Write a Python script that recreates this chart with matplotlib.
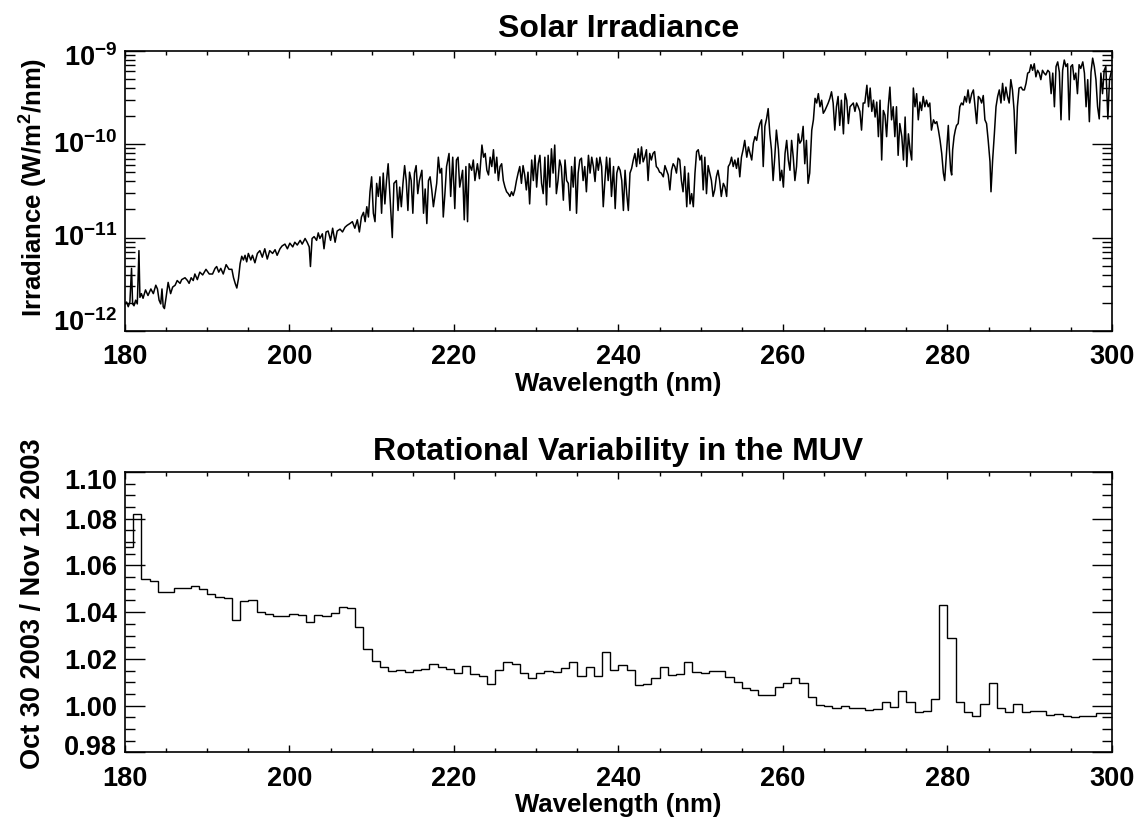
import numpy as np
import matplotlib
matplotlib.use("Agg")
import matplotlib.pyplot as plt
from matplotlib.ticker import MultipleLocator, FixedLocator, FixedFormatter, LogLocator, NullFormatter
from matplotlib.transforms import ScaledTranslation

# ---------------------------------------------------------------------------
# Solar spectrum, (wavelength nm, log10 irradiance W/m^2/nm)
# ---------------------------------------------------------------------------
spec_180_210 = [
    (180.0, -11.71), (180.2, -11.69), (180.4, -11.74), (180.6, -11.69), (180.8, -11.33),
    (180.93, -11.71), (181.1, -11.73), (181.3, -11.67), (181.5, -11.71), (181.7, -11.14),
    (181.82, -11.64), (182.0, -11.60), (182.2, -11.65), (182.5, -11.56), (182.8, -11.62),
    (183.15, -11.55), (183.45, -11.60), (183.75, -11.51), (183.95, -11.55), (184.15, -11.67),
    (184.35, -11.71), (184.5, -11.55), (184.65, -11.74), (184.8, -11.76), (185.0, -11.64),
    (185.25, -11.48), (185.55, -11.60), (185.8, -11.53), (186.1, -11.51), (186.35, -11.46),
    (186.7, -11.49), (186.9, -11.45), (187.3, -11.43), (187.6, -11.46), (187.8, -11.49),
    (188.05, -11.43), (188.3, -11.46), (188.5, -11.39), (188.8, -11.45), (189.1, -11.37),
    (189.45, -11.40), (189.85, -11.34), (190.25, -11.39), (190.65, -11.39), (190.95, -11.33),
    (191.15, -11.31), (191.4, -11.37), (191.65, -11.33), (191.95, -11.39), (192.3, -11.29),
    (192.65, -11.34), (193.0, -11.34), (193.2, -11.43), (193.4, -11.49), (193.6, -11.54),
    (193.8, -11.44), (194.0, -11.28), (194.2, -11.20), (194.4, -11.24), (194.6, -11.19),
    (194.8, -11.26), (195.0, -11.17), (195.3, -11.24), (195.5, -11.19), (195.8, -11.27),
    (196.1, -11.17), (196.4, -11.14), (196.7, -11.21), (197.0, -11.12), (197.3, -11.23),
    (197.6, -11.14), (197.95, -11.17), (198.25, -11.13), (198.5, -11.19), (198.85, -11.12),
    (199.1, -11.09), (199.45, -11.07), (199.75, -11.12), (200.05, -11.06), (200.4, -11.10),
    (200.65, -11.05), (200.95, -11.08), (201.3, -11.03), (201.55, -11.07), (201.9, -11.01),
    (202.15, -11.05), (202.4, -11.10), (202.55, -11.31), (202.75, -11.01), (203.0, -10.99),
    (203.3, -11.03), (203.5, -10.95), (203.7, -11.01), (204.0, -10.96), (204.2, -11.12),
    (204.45, -10.94), (204.7, -10.93), (205.0, -11.03), (205.25, -10.90), (205.55, -11.05),
    (205.8, -10.93), (206.15, -10.91), (206.45, -10.94), (206.75, -10.89), (207.0, -10.87),
    (207.35, -10.85), (207.65, -10.83), (207.95, -10.90), (208.25, -10.81), (208.5, -10.94),
    (208.75, -10.78), (209.0, -10.73), (209.2, -10.83), (209.4, -10.67), (209.6, -10.78),
]

spec_210_240 = [
    (209.79, -10.51), (209.99, -10.35), (210.2, -10.74), (210.4, -10.83), (210.6, -10.42),
    (210.8, -10.56), (211.0, -10.35), (211.2, -10.74), (211.4, -10.31), (211.6, -10.64),
    (211.8, -10.39), (212.0, -10.21), (212.2, -10.53), (212.5, -11.00), (212.7, -10.42),
    (213.0, -10.39), (213.2, -10.71), (213.4, -10.46), (213.6, -10.67), (213.8, -10.42),
    (214.0, -10.23), (214.2, -10.39), (214.4, -10.71), (214.6, -10.30), (214.8, -10.39),
    (215.0, -10.74), (215.2, -10.31), (215.4, -10.23), (215.6, -10.53), (215.8, -10.39),
    (216.1, -10.28), (216.3, -10.74), (216.5, -10.48), (216.7, -10.85), (216.9, -10.39),
    (217.1, -10.35), (217.3, -10.49), (217.5, -10.67), (217.9, -10.42), (218.1, -10.14),
    (218.3, -10.31), (218.5, -10.26), (218.7, -10.78), (218.9, -10.53), (219.1, -10.24),
    (219.4, -10.10), (219.6, -10.56), (219.85, -10.14), (220.1, -10.69), (220.3, -10.17),
    (220.5, -10.14), (220.7, -10.46), (221.05, -10.28), (221.25, -10.81), (221.45, -10.24),
    (221.65, -10.83), (221.85, -10.21), (222.15, -10.28), (222.35, -10.17), (222.55, -10.39),
    (222.85, -10.21), (223.1, -10.37), (223.4, -10.01), (223.6, -10.14), (223.8, -10.10),
    (224.0, -10.28), (224.2, -10.33), (224.4, -10.14), (224.6, -10.24), (224.8, -10.06),
    (225.0, -10.31), (225.2, -10.14), (225.4, -10.39), (225.6, -10.24), (225.8, -10.21),
    (226.0, -10.39), (226.2, -10.46), (226.4, -10.51), (226.6, -10.53), (226.8, -10.56),
    (227.0, -10.51), (227.2, -10.55), (227.4, -10.49), (227.6, -10.39), (227.8, -10.31),
    (228.0, -10.24), (228.2, -10.42), (228.4, -10.23), (228.6, -10.33), (228.8, -10.49),
    (229.0, -10.30), (229.2, -10.64), (229.45, -10.17), (229.65, -10.39), (229.85, -10.12),
    (230.05, -10.46), (230.25, -10.21), (230.45, -10.12), (230.65, -10.42), (230.85, -10.53),
    (231.05, -10.14), (231.25, -10.65), (231.45, -10.12), (231.65, -10.46), (231.85, -10.05),
    (232.05, -10.31), (232.25, -10.01), (232.45, -10.53), (232.65, -10.39), (232.85, -10.17),
    (233.05, -10.24), (233.3, -10.60), (233.5, -10.17), (233.7, -10.39), (233.9, -10.42),
    (234.1, -10.71), (234.3, -10.24), (234.5, -10.46), (234.7, -10.14), (234.9, -10.74),
    (235.1, -10.31), (235.3, -10.17), (235.5, -10.15), (235.7, -10.39), (235.9, -10.24),
    (236.1, -10.51), (236.35, -10.12), (236.55, -10.31), (236.75, -10.14), (236.95, -10.24),
    (237.15, -10.40), (237.35, -10.15), (237.55, -10.28), (237.75, -10.14), (237.95, -10.24),
    (238.15, -10.67), (238.35, -10.39), (238.55, -10.14), (238.75, -10.39), (238.95, -10.15),
    (239.15, -10.56), (239.4, -10.24), (239.6, -10.69), (239.8, -10.31), (240.0, -10.24),
]

spec_240_270 = [
    (240.2, -10.28), (240.4, -10.39), (240.6, -10.71), (240.8, -10.28), (241.0, -10.53),
    (241.2, -10.71), (241.4, -10.31), (241.6, -10.26), (241.8, -10.17), (242.0, -10.10),
    (242.2, -10.24), (242.4, -10.05), (242.6, -10.21), (242.8, -10.03), (243.0, -10.19),
    (243.2, -10.14), (243.4, -10.06), (243.6, -10.39), (243.8, -10.10), (244.0, -10.17),
    (244.2, -10.10), (244.4, -10.08), (244.6, -10.24), (244.8, -10.26), (245.0, -10.30),
    (245.2, -10.31), (245.45, -10.35), (245.65, -10.23), (245.85, -10.28), (246.05, -10.33),
    (246.25, -10.49), (246.45, -10.28), (246.65, -10.21), (246.85, -10.24), (247.05, -10.31),
    (247.25, -10.15), (247.45, -10.17), (247.65, -10.39), (247.85, -10.51), (248.05, -10.24),
    (248.3, -10.67), (248.5, -10.31), (248.7, -10.64), (248.9, -10.53), (249.1, -10.67),
    (249.3, -10.31), (249.5, -10.08), (249.7, -10.06), (249.9, -10.17), (250.1, -10.12),
    (250.3, -10.49), (250.5, -10.14), (250.7, -10.53), (250.9, -10.23), (251.1, -10.31),
    (251.3, -10.39), (251.5, -10.56), (251.7, -10.49), (251.9, -10.35), (252.1, -10.28),
    (252.3, -10.39), (252.5, -10.56), (252.75, -10.42), (252.95, -10.46), (253.15, -10.56),
    (253.35, -10.24), (253.55, -10.21), (253.75, -10.14), (253.95, -10.24), (254.15, -10.17),
    (254.35, -10.26), (254.55, -10.15), (254.75, -10.35), (254.95, -10.14), (255.15, -10.06),
    (255.35, -9.96), (255.6, -10.14), (255.8, -10.03), (256.0, -10.10), (256.2, -10.17),
    (256.4, -9.99), (256.6, -9.92), (256.8, -9.96), (257.0, -9.85), (257.2, -9.78),
    (257.4, -9.74), (257.6, -10.24), (257.8, -9.81), (258.0, -9.73), (258.2, -9.62),
    (258.4, -9.89), (258.6, -10.06), (258.8, -10.39), (259.0, -10.14), (259.2, -9.85),
    (259.45, -10.06), (259.65, -10.39), (259.85, -10.28), (260.05, -10.46), (260.25, -10.10),
    (260.45, -9.96), (260.65, -10.17), (260.85, -10.28), (261.05, -9.96), (261.25, -10.14),
    (261.45, -10.39), (261.65, -10.24), (261.85, -9.89), (262.05, -9.99), (262.25, -9.96),
    (262.45, -9.81), (262.65, -10.21), (262.85, -9.96), (263.05, -10.42), (263.25, -10.31),
    (263.5, -9.85), (263.7, -9.74), (263.9, -9.51), (264.1, -9.56), (264.3, -9.46),
    (264.5, -9.60), (264.7, -9.53), (264.9, -9.67), (265.1, -9.64), (265.3, -9.60),
    (265.5, -9.56), (265.7, -9.51), (265.9, -9.44), (266.1, -9.56), (266.3, -9.85),
    (266.5, -9.60), (266.7, -9.49), (266.9, -9.80), (267.1, -9.53), (267.35, -9.89),
    (267.55, -9.46), (267.75, -9.53), (267.95, -9.78), (268.15, -9.60), (268.35, -9.58),
    (268.55, -9.56), (268.75, -9.65), (268.95, -9.56), (269.15, -9.60), (269.35, -9.65),
    (269.55, -9.85), (269.75, -9.56), (269.95, -9.56), (270.2, -9.37), (270.4, -9.60),
]

spec_270_300 = [
    (270.6, -9.40), (270.8, -9.65), (271.0, -9.53), (271.2, -9.71), (271.4, -9.55),
    (271.6, -9.92), (271.8, -9.53), (272.0, -10.17), (272.2, -9.64), (272.4, -9.69),
    (272.6, -9.92), (272.8, -9.60), (273.0, -9.39), (273.2, -9.74), (273.4, -9.60),
    (273.6, -9.92), (273.8, -9.60), (274.0, -10.12), (274.2, -9.78), (274.45, -9.92),
    (274.65, -10.17), (274.85, -9.71), (275.05, -10.24), (275.25, -9.89), (275.45, -10.06),
    (275.65, -10.17), (275.85, -9.40), (276.05, -9.60), (276.25, -9.46), (276.45, -9.74),
    (276.65, -9.55), (276.85, -9.64), (277.05, -9.49), (277.25, -9.60), (277.45, -9.53),
    (277.65, -9.60), (277.85, -9.56), (278.05, -9.85), (278.3, -9.74), (278.5, -9.78),
    (278.7, -9.76), (278.9, -9.85), (279.1, -9.96), (279.3, -10.10), (279.5, -10.31),
    (279.66, -10.39), (279.82, -10.17), (279.98, -9.96), (280.1, -9.80), (280.23, -10.06),
    (280.39, -10.28), (280.51, -10.33), (280.63, -10.06), (280.8, -9.92), (280.95, -9.85),
    (281.1, -9.80), (281.3, -9.78), (281.5, -9.60), (281.7, -9.56), (281.9, -9.58),
    (282.1, -9.49), (282.3, -9.55), (282.5, -9.42), (282.7, -9.56), (282.95, -9.46),
    (283.15, -9.42), (283.35, -9.60), (283.55, -9.78), (283.75, -9.49), (283.95, -9.51),
    (284.15, -9.56), (284.35, -9.48), (284.55, -9.74), (284.75, -9.78), (284.95, -9.96),
    (285.17, -10.19), (285.29, -10.51), (285.49, -10.17), (285.7, -9.89), (285.9, -9.60),
    (286.1, -9.49), (286.3, -9.42), (286.5, -9.56), (286.7, -9.35), (286.9, -9.53),
    (287.1, -9.39), (287.3, -9.49), (287.5, -9.56), (287.7, -9.31), (287.9, -9.42),
    (288.1, -9.64), (288.3, -10.10), (288.5, -9.60), (288.7, -9.40), (288.95, -9.39),
    (289.15, -9.42), (289.35, -9.42), (289.55, -9.35), (289.75, -9.24), (289.95, -9.23),
    (290.15, -9.15), (290.35, -9.21), (290.55, -9.14), (290.75, -9.28), (290.95, -9.21),
    (291.15, -9.24), (291.35, -9.31), (291.55, -9.21), (291.75, -9.24), (291.95, -9.26),
    (292.2, -9.21), (292.4, -9.23), (292.6, -9.46), (292.8, -9.24), (293.0, -9.60),
    (293.2, -9.17), (293.4, -9.12), (293.6, -9.23), (293.8, -9.74), (294.0, -9.21),
    (294.2, -9.10), (294.4, -9.17), (294.6, -9.14), (294.8, -9.74), (295.0, -9.17),
    (295.2, -9.15), (295.4, -9.31), (295.6, -9.24), (295.8, -9.46), (296.0, -9.15),
    (296.2, -9.19), (296.45, -9.12), (296.65, -9.24), (296.85, -9.60), (297.05, -9.31),
    (297.25, -9.76), (297.45, -9.23), (297.65, -9.08), (297.85, -9.17), (298.05, -9.31),
    (298.25, -9.60), (298.45, -9.73), (298.65, -9.24), (298.85, -9.46), (299.05, -9.21),
    (299.25, -9.17), (299.5, -9.73), (299.7, -9.31), (299.9, -9.23), (300.0, -9.20),
]

# ---------------------------------------------------------------------------
# Irradiance ratio Oct 30 / Nov 12 2003, 1 nm bins
# ---------------------------------------------------------------------------
bin_edges_nm = list(range(180, 301))
ratio = [
    1.0679, 1.0821, 1.0540, 1.0534, 1.0488, 1.0488, 1.0502, 1.0505, 1.0512, 1.0501,  # 180-189
    1.0477, 1.0465, 1.0460, 1.0366, 1.0448, 1.0453, 1.0399, 1.0394, 1.0383, 1.0383,  # 190-199
    1.0391, 1.0386, 1.0356, 1.0387, 1.0383, 1.0397, 1.0423, 1.0416, 1.0337, 1.0241,  # 200-209
    1.0189, 1.0164, 1.0148, 1.0151, 1.0145, 1.0152, 1.0157, 1.0179, 1.0164, 1.0157,  # 210-219
    1.0138, 1.0171, 1.0134, 1.0127, 1.0091, 1.0152, 1.0188, 1.0179, 1.0138, 1.0120,  # 220-229
    1.0138, 1.0148, 1.0142, 1.0159, 1.0185, 1.0127, 1.0167, 1.0128, 1.0229, 1.0152,  # 230-239
    1.0174, 1.0152, 1.0088, 1.0093, 1.0120, 1.0164, 1.0131, 1.0134, 1.0185, 1.0142,  # 240-249
    1.0138, 1.0149, 1.0148, 1.0124, 1.0100, 1.0074, 1.0067, 1.0046, 1.0046, 1.0078,  # 250-259
    1.0098, 1.0120, 1.0095, 1.0038, 1.0003, 0.9999, 0.9989, 0.9997, 0.9991, 0.9991,  # 260-269
    0.9979, 0.9984, 1.0014, 0.9996, 1.0061, 1.0017, 0.9974, 0.9977, 1.0027, 1.0430,  # 270-279
    1.0290, 1.0014, 0.9972, 0.9957, 1.0006, 1.0095, 0.9991, 0.9974, 1.0007, 0.9974,  # 280-289
    0.9977, 0.9977, 0.9960, 0.9963, 0.9957, 0.9953, 0.9956, 0.9956, 0.9970, 0.9970,  # 290-299
]

irr_ticks = [1e-12, 1e-11, 1e-10, 1e-9]
irr_tick_labels = [r"$10^{-12}$", r"$10^{-11}$", r"$10^{-10}$", r"$10^{-9}$"]
ratio_ticks = [0.98, 1.00, 1.02, 1.04, 1.06, 1.08, 1.10]
ratio_tick_labels = ["0.98", "1.00", "1.02", "1.04", "1.06", "1.08", "1.10"]

# ---------------------------------------------------------------------------
plt.rcParams["font.family"] = ["Liberation Sans", "DejaVu Sans"]
plt.rcParams["font.weight"] = "bold"
plt.rcParams["mathtext.default"] = "regular"
plt.rcParams["axes.linewidth"] = 1.2

spectrum = spec_180_210 + spec_210_240 + spec_240_270 + spec_270_300
wl = np.array([p[0] for p in spectrum])
irr = 10.0 ** np.array([p[1] for p in spectrum])

fig = plt.figure(figsize=(11.37, 8.24), dpi=100)
ax1 = fig.add_axes([0.1099, 0.5983, 0.8681, 0.3402])
ax2 = fig.add_axes([0.1099, 0.0870, 0.8681, 0.3402])

TICK_FS = 19.5
TITLE_FS = 23

# --- top panel: spectrum
ax1.plot(wl, irr, color="black", lw=1.1)
ax1.set_yscale("log")
ax1.set_xlim(180, 300)
ax1.set_ylim(1e-12, 1e-9)
ax1.yaxis.set_major_locator(FixedLocator(irr_ticks))
ax1.yaxis.set_major_formatter(FixedFormatter(irr_tick_labels))
ax1.yaxis.set_minor_locator(LogLocator(base=10, subs=np.arange(2, 10), numticks=20))
ax1.yaxis.set_minor_formatter(NullFormatter())
ax1.set_title("Solar Irradiance", fontsize=TITLE_FS, fontweight="bold", pad=9.5)
ax1.set_xlabel("Wavelength (nm)", fontsize=18.5, fontweight="bold", labelpad=1)
ax1.set_ylabel(r"Irradiance (W/m$^2$/nm)", fontsize=18.5, fontweight="bold", labelpad=2.5)
ax1.yaxis.label.set_y(0.514)

# --- bottom panel: ratio histogram
ax2.stairs(ratio, bin_edges_nm, color="black", lw=1.0, baseline=None)
ax2.set_xlim(180, 300)
ax2.set_ylim(0.98, 1.10)
ax2.yaxis.set_major_locator(FixedLocator(ratio_ticks))
ax2.yaxis.set_major_formatter(FixedFormatter(ratio_tick_labels))
ax2.yaxis.set_minor_locator(MultipleLocator(0.005))
ax2.set_title("Rotational Variability in the MUV", fontsize=TITLE_FS, fontweight="bold", pad=8.5)
ax2.set_xlabel("Wavelength (nm)", fontsize=18.5, fontweight="bold", labelpad=1)
ax2.set_ylabel("Oct 30 2003 / Nov 12 2003", fontsize=19.5, fontweight="bold", labelpad=13)
ax2.yaxis.label.set_y(0.530)

for ax in (ax1, ax2):
    ax.xaxis.set_major_locator(MultipleLocator(20))
    ax.xaxis.set_minor_locator(MultipleLocator(5))
    ax.tick_params(which="both", direction="in", top=True, right=True,
                   labelsize=TICK_FS, width=1.0, color="black")
    ax.tick_params(axis="x", which="major", length=5.0, pad=9.5)
    ax.tick_params(axis="x", which="minor", length=3.0)
    ax.tick_params(axis="y", which="major", length=14.5, pad=5.5)
    ax.tick_params(axis="y", which="minor", length=7.2)
    for lab in ax.get_xticklabels() + ax.get_yticklabels():
        lab.set_fontweight("bold")

# keep the end labels of each y axis inside the frame (vertical nudges in points)
fig.canvas.draw()
irr_label_shift = [7.5, 1.5, 1.5, -3.0]
ratio_label_shift = [5.0, 0, 0, 0, 0, 0, -5.0]
for lab, dy in zip(ax1.get_yticklabels(), irr_label_shift):
    lab.set_transform(lab.get_transform() + ScaledTranslation(0, dy / 72, fig.dpi_scale_trans))
for lab, dy in zip(ax2.get_yticklabels(), ratio_label_shift):
    lab.set_transform(lab.get_transform() + ScaledTranslation(0, dy / 72, fig.dpi_scale_trans))

fig.savefig("out.png", dpi=100)
